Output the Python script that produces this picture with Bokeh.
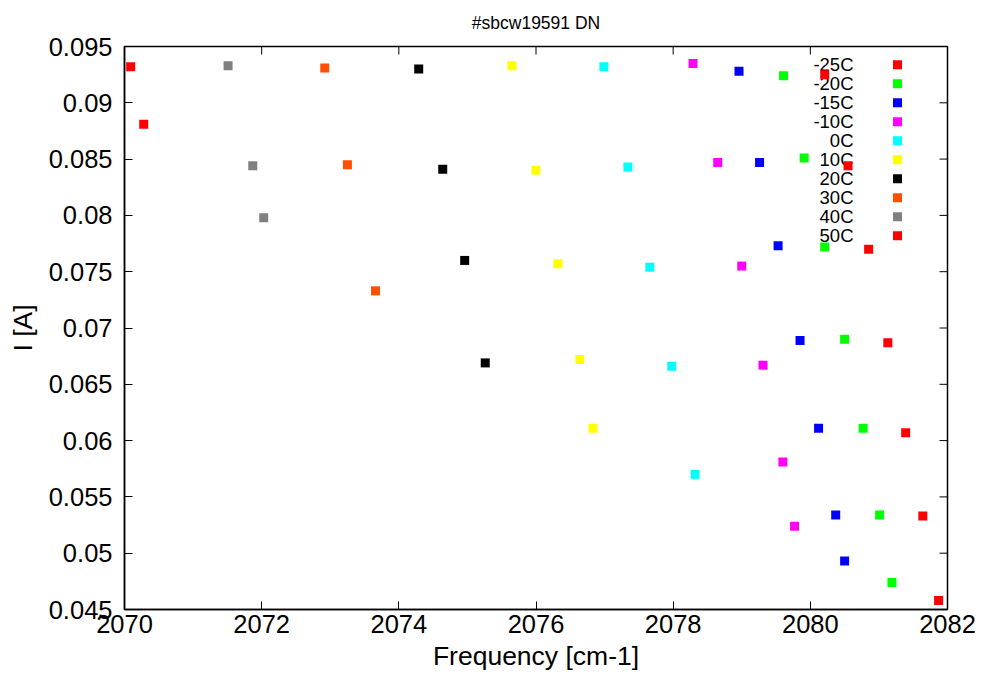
import math
from bokeh.plotting import figure
from bokeh.models import (Range1d, FixedTicker, Label, BoxAnnotation)
from bokeh.embed import file_html
from bokeh.resources import INLINE

# ---------------- data ----------------
series_labels = ["-25C", "-20C", "-15C", "-10C", "0C", "10C", "20C", "30C", "40C", "50C"]
series_colors = ["#ff0000", "#00ff00", "#0000ff", "#ff00ff", "#00ffff",
                 "#ffff00", "#000000", "#ff5000", "#808080", "#ff0000"]

freq_m25 = [2080.21, 2080.55, 2080.85, 2081.13, 2081.39, 2081.64, 2081.87]
cur_m25 = [0.0925, 0.0844, 0.0770, 0.0687, 0.0607, 0.0533, 0.0458]
freq_m20 = [2079.61, 2079.91, 2080.21, 2080.50, 2080.77, 2081.01, 2081.19]
cur_m20 = [0.0924, 0.0851, 0.0772, 0.0690, 0.0611, 0.0534, 0.0474]
freq_m15 = [2078.96, 2079.26, 2079.53, 2079.85, 2080.12, 2080.37, 2080.50]
cur_m15 = [0.0928, 0.0847, 0.0773, 0.0689, 0.0611, 0.0534, 0.0493]
freq_m10 = [2078.29, 2078.65, 2079.00, 2079.31, 2079.60, 2079.77]
cur_m10 = [0.0935, 0.0847, 0.0755, 0.0667, 0.0581, 0.0524]
freq_0 = [2076.99, 2077.34, 2077.66, 2077.98, 2078.32]
cur_0 = [0.0932, 0.0843, 0.0754, 0.0666, 0.0570]
freq_10 = [2075.65, 2076.00, 2076.32, 2076.64, 2076.83]
cur_10 = [0.0933, 0.0840, 0.0757, 0.0672, 0.0611]
freq_20 = [2074.29, 2074.64, 2074.96, 2075.26]
cur_20 = [0.0930, 0.0841, 0.0760, 0.0669]
freq_30 = [2072.92, 2073.25, 2073.66]
cur_30 = [0.0931, 0.0845, 0.0733]
freq_40 = [2071.51, 2071.87, 2072.03]
cur_40 = [0.0933, 0.0844, 0.0798]
freq_50 = [2070.09, 2070.28]
cur_50 = [0.0932, 0.0881]

x_min, x_max = 2070, 2082
y_min, y_max = 0.045, 0.095
x_ticks = [2070, 2072, 2074, 2076, 2078, 2080, 2082]
y_ticks = [0.045, 0.05, 0.055, 0.06, 0.065, 0.07, 0.075, 0.08, 0.085, 0.09, 0.095]
y_tick_labels = ["0.045", "0.05", "0.055", "0.06", "0.065", "0.07",
                 "0.075", "0.08", "0.085", "0.09", "0.095"]

title_text = "#sbcw19591 DN"
x_label = "Frequency [cm-1]"
y_label = "I [A]"

all_freq = [freq_m25, freq_m20, freq_m15, freq_m10, freq_0,
            freq_10, freq_20, freq_30, freq_40, freq_50]
all_cur = [cur_m25, cur_m20, cur_m15, cur_m10, cur_0,
           cur_10, cur_20, cur_30, cur_40, cur_50]

# ---------------- figure ----------------
FONT = "Liberation Sans"
W, H = 985, 677
ML, MR, MT, MB = 124, 38, 46, 68
TICK = 8
frame_w = W - ML - MR
frame_h = H - MT - MB

p = figure(width=W, height=H, output_backend="svg", toolbar_location=None,
           x_range=Range1d(x_min, x_max), y_range=Range1d(y_min, y_max),
           min_border_left=ML, min_border_right=MR,
           min_border_top=MT, min_border_bottom=MB)

p.background_fill_color = "white"
p.border_fill_color = "white"
p.outline_line_color = "black"
p.outline_line_width = 1.5
p.xgrid.visible = False
p.ygrid.visible = False

p.title.text = title_text
p.title.align = "center"
p.title.vertical_align = "top"
p.title.text_font = FONT
p.title.text_font_size = "17.5px"
p.title.text_font_style = "normal"
p.title.text_color = "black"
p.title.standoff = 24

xa = p.xaxis[0]
xa.ticker = FixedTicker(ticks=x_ticks)
ya = p.yaxis[0]
ya.ticker = FixedTicker(ticks=y_ticks)
ya.major_label_overrides = {t: s for t, s in zip(y_ticks, y_tick_labels)}

for ax in (xa, ya):
    ax.axis_line_color = "black"
    ax.axis_line_width = 1.5
    ax.major_tick_in = TICK
    ax.major_tick_out = 0
    ax.minor_tick_in = 0
    ax.minor_tick_out = 0
    ax.major_tick_line_color = "black"
    ax.major_label_text_font = FONT
    ax.major_label_text_font_size = "25.5px"
    ax.major_label_text_color = "black"
    ax.axis_label_text_font = FONT
    ax.axis_label_text_font_size = "26.5px"
    ax.axis_label_text_font_style = "normal"
    ax.axis_label_text_color = "black"

xa.axis_label = x_label
ya.axis_label = y_label
xa.major_label_standoff = 5
xa.axis_label_standoff = 5
ya.major_label_standoff = 12
ya.axis_label_standoff = 8

# mirrored tick marks on the top and right borders (gnuplot style)
p.ray(x=x_ticks, y=[y_max] * len(x_ticks), length=TICK, length_units="screen",
      angle=-math.pi / 2, line_color="black", line_width=1)
p.ray(x=[x_max] * len(y_ticks), y=y_ticks, length=TICK, length_units="screen",
      angle=math.pi, line_color="black", line_width=1)

# ---------------- data points ----------------
for fx, cy, col in zip(all_freq, all_cur, series_colors):
    p.scatter(fx, cy, marker="square", size=9, fill_color=col,
              line_color=None)

# ---------------- legend (gnuplot style: text right-aligned, sample at right) ----------------
text_right = 729      # from frame left
sample_cx = 773       # from frame left
row0 = 18.3           # first row centre below frame top
row_step = 19
half = 4.5
for i, (lab, col) in enumerate(zip(series_labels, series_colors)):
    yc = frame_h - (row0 + i * row_step)
    p.add_layout(Label(x=text_right, y=yc, x_units="screen", y_units="screen",
                       text=lab, text_align="right", text_baseline="middle",
                       text_font=FONT, text_font_size="18.5px",
                       text_color="black", level="underlay"))
    p.add_layout(BoxAnnotation(left=sample_cx - half, right=sample_cx + half,
                               bottom=yc - half, top=yc + half,
                               left_units="screen", right_units="screen",
                               bottom_units="screen", top_units="screen",
                               fill_color=col, fill_alpha=1.0,
                               line_color=None))

open("out.html", "w").write(file_html(p, INLINE))
